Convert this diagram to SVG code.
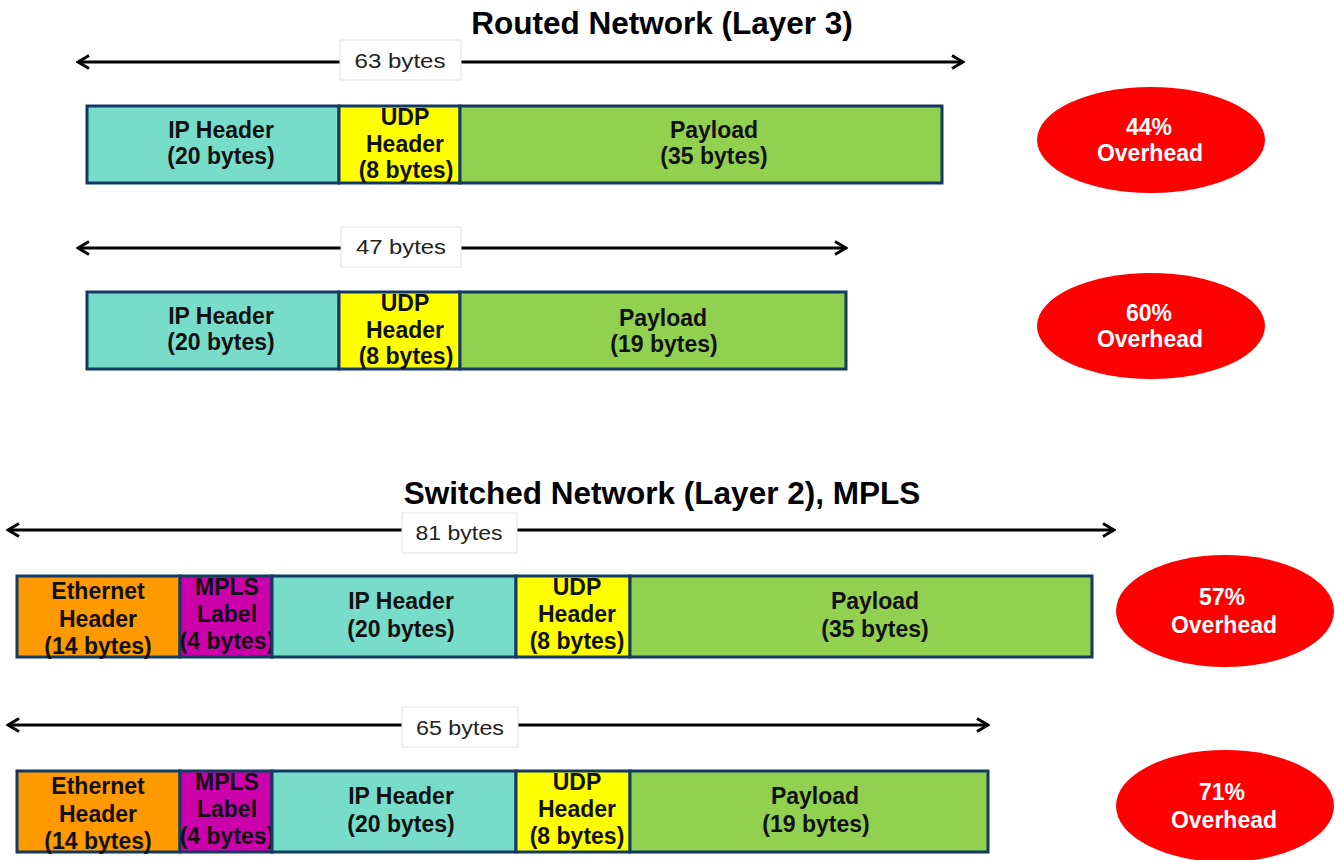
<svg xmlns="http://www.w3.org/2000/svg" width="1335" height="860" viewBox="0 0 1335 860">
<defs>
<style>
.title{font-family:"Liberation Sans",Arial,sans-serif;font-weight:bold;font-size:31.5px;fill:#000;text-anchor:middle}
.cell{stroke:#123A63;stroke-width:3}
.t{font-family:"Liberation Sans",Arial,sans-serif;font-weight:bold;font-size:23px;fill:#111;text-anchor:middle}
.lbl{font-family:"Liberation Sans",Arial,sans-serif;font-size:20px;fill:#222;text-anchor:middle}
.lblbox{fill:#fff;stroke:#e2e2e2;stroke-width:1}
.ov{fill:#ff0000}
.ot{font-family:"Liberation Sans",Arial,sans-serif;font-weight:bold;font-size:23px;fill:#fff;text-anchor:middle}
.arr{stroke:#000;stroke-width:3;fill:none;marker-start:url(#ah);marker-end:url(#ah)}
.ip{fill:#77DCC9}.udp{fill:#FFFF00}.pl{fill:#92D050}.eth{fill:#FF9900}.mpls{fill:#CC00AA}
</style>
<marker id="ah" viewBox="0 0 16 16" refX="14" refY="8" markerWidth="16" markerHeight="16" markerUnits="userSpaceOnUse" orient="auto-start-reverse">
<polyline points="3,1.5 14,8 3,14.5" fill="none" stroke="#000" stroke-width="3"/>
</marker>
</defs>
<rect width="1335" height="860" fill="#fff"/>

<text class="title" x="662" y="34">Routed Network (Layer 3)</text>
<text class="title" x="662" y="504">Switched Network (Layer 2), MPLS</text>

<g id="connectors">
<line class="arr" x1="78" y1="62" x2="963" y2="62"/>
<line class="arr" x1="78" y1="248" x2="846" y2="248"/>
<line class="arr" x1="8" y1="530" x2="1114" y2="530"/>
<line class="arr" x1="8" y1="725" x2="988" y2="725"/>
</g>

<g id="label-63">
<rect class="lblbox" x="340" y="40" width="121" height="40"/>
<text class="lbl" x="400" y="68" textLength="91" lengthAdjust="spacingAndGlyphs">63 bytes</text>
</g>
<g id="label-47">
<rect class="lblbox" x="341" y="227" width="120" height="40"/>
<text class="lbl" x="401" y="254" textLength="90" lengthAdjust="spacingAndGlyphs">47 bytes</text>
</g>
<g id="label-81">
<rect class="lblbox" x="402" y="513" width="115" height="40"/>
<text class="lbl" x="459" y="540" textLength="87" lengthAdjust="spacingAndGlyphs">81 bytes</text>
</g>
<g id="label-65">
<rect class="lblbox" x="402" y="707" width="116" height="40"/>
<text class="lbl" x="460" y="735" textLength="88" lengthAdjust="spacingAndGlyphs">65 bytes</text>
</g>

<!-- Packet 1 -->
<g id="p1-ip"><rect class="cell ip" x="87" y="106" width="252" height="77"/>
<text class="t" x="221" y="138">IP Header</text><text class="t" x="221" y="164">(20 bytes)</text></g>
<g id="p1-udp"><rect class="cell udp" x="339" y="106" width="121" height="77"/>
<text class="t" x="405" y="125">UDP</text><text class="t" x="405" y="152">Header</text><text class="t" x="406" y="178">(8 bytes)</text></g>
<g id="p1-pl"><rect class="cell pl" x="460" y="106" width="482" height="77"/>
<text class="t" x="714" y="138">Payload</text><text class="t" x="714" y="164">(35 bytes)</text></g>
<g id="ov1"><ellipse class="ov" cx="1151" cy="140" rx="114" ry="53"/>
<text class="ot" x="1149" y="135">44%</text><text class="ot" x="1150" y="161">Overhead</text></g>

<!-- Packet 2 -->
<g id="p2-ip"><rect class="cell ip" x="87" y="292" width="252" height="77"/>
<text class="t" x="221" y="324">IP Header</text><text class="t" x="221" y="350">(20 bytes)</text></g>
<g id="p2-udp"><rect class="cell udp" x="339" y="292" width="121" height="77"/>
<text class="t" x="405" y="311">UDP</text><text class="t" x="405" y="338">Header</text><text class="t" x="406" y="364">(8 bytes)</text></g>
<g id="p2-pl"><rect class="cell pl" x="460" y="292" width="386" height="77"/>
<text class="t" x="663" y="326">Payload</text><text class="t" x="664" y="352">(19 bytes)</text></g>
<g id="ov2"><ellipse class="ov" cx="1151" cy="326" rx="114" ry="53"/>
<text class="ot" x="1149" y="321">60%</text><text class="ot" x="1150" y="347">Overhead</text></g>

<!-- Packet 3 -->
<g id="p3-eth"><rect class="cell eth" x="17" y="576" width="163" height="81"/>
<text class="t" x="98" y="599">Ethernet</text><text class="t" x="98" y="627">Header</text><text class="t" x="98" y="654">(14 bytes)</text></g>
<g id="p3-mpls"><rect class="cell mpls" x="180" y="576" width="92" height="81"/>
<text class="t" x="227" y="595">MPLS</text><text class="t" x="227" y="622">Label</text><text class="t" x="227" y="649">(4 bytes)</text></g>
<g id="p3-ip"><rect class="cell ip" x="272" y="576" width="244" height="81"/>
<text class="t" x="401" y="609">IP Header</text><text class="t" x="401" y="637">(20 bytes)</text></g>
<g id="p3-udp"><rect class="cell udp" x="516" y="576" width="114" height="81"/>
<text class="t" x="577" y="595">UDP</text><text class="t" x="577" y="622">Header</text><text class="t" x="577" y="649">(8 bytes)</text></g>
<g id="p3-pl"><rect class="cell pl" x="630" y="576" width="462" height="81"/>
<text class="t" x="875" y="609">Payload</text><text class="t" x="875" y="637">(35 bytes)</text></g>
<g id="ov3"><ellipse class="ov" cx="1225" cy="611" rx="109" ry="56"/>
<text class="ot" x="1222" y="605">57%</text><text class="ot" x="1224" y="633">Overhead</text></g>

<!-- Packet 4 -->
<g id="p4-eth"><rect class="cell eth" x="17" y="771" width="163" height="81"/>
<text class="t" x="98" y="794">Ethernet</text><text class="t" x="98" y="822">Header</text><text class="t" x="98" y="849">(14 bytes)</text></g>
<g id="p4-mpls"><rect class="cell mpls" x="180" y="771" width="92" height="81"/>
<text class="t" x="227" y="790">MPLS</text><text class="t" x="227" y="817">Label</text><text class="t" x="227" y="844">(4 bytes)</text></g>
<g id="p4-ip"><rect class="cell ip" x="272" y="771" width="244" height="81"/>
<text class="t" x="401" y="804">IP Header</text><text class="t" x="401" y="832">(20 bytes)</text></g>
<g id="p4-udp"><rect class="cell udp" x="516" y="771" width="114" height="81"/>
<text class="t" x="577" y="790">UDP</text><text class="t" x="577" y="817">Header</text><text class="t" x="577" y="844">(8 bytes)</text></g>
<g id="p4-pl"><rect class="cell pl" x="630" y="771" width="358" height="81"/>
<text class="t" x="815" y="804">Payload</text><text class="t" x="816" y="832">(19 bytes)</text></g>
<g id="ov4"><ellipse class="ov" cx="1225" cy="806" rx="109" ry="56"/>
<text class="ot" x="1222" y="800">71%</text><text class="ot" x="1224" y="828">Overhead</text></g>
</svg>
